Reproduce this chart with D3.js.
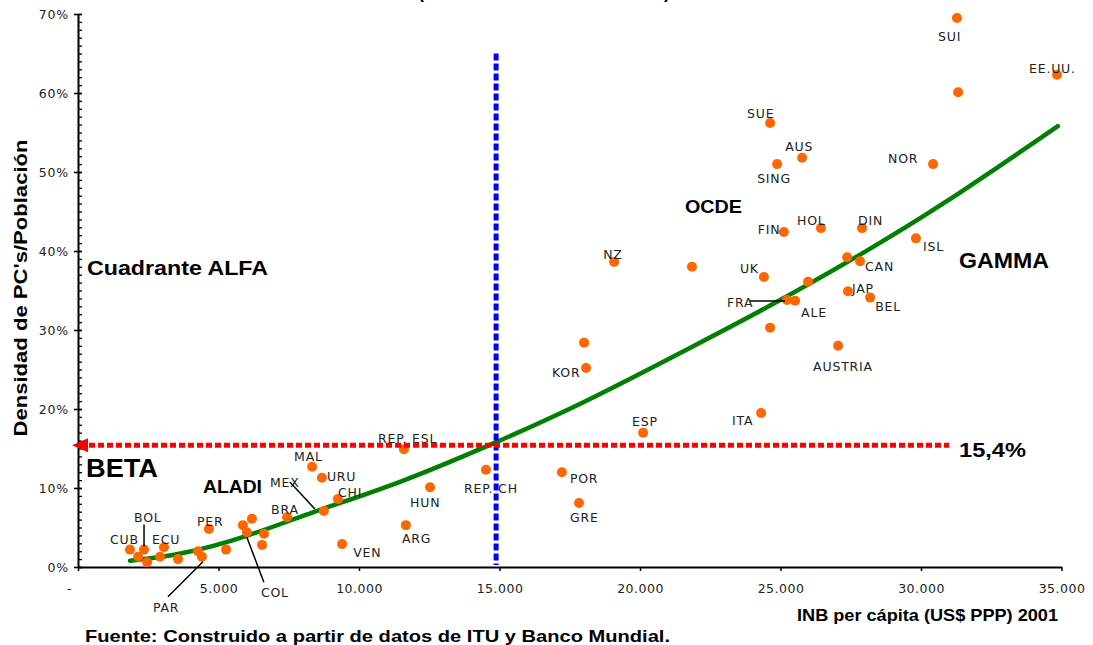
<!DOCTYPE html>
<html>
<head>
<meta charset="utf-8">
<script src="https://cdn.jsdelivr.net/npm/d3@7"></script>
<style>
  body { margin: 0; background: #fff; }
  svg { display: block; }
</style>
</head>
<body>
<svg id="chart" width="1093" height="645"></svg>
<script>
// ---- data ----
const countries = [
  "SUI", "", "EE.UU.", "SUE", "AUS", "SING", "NOR", "FIN", "HOL", "DIN", "ISL", "NZ", "",
  "UK", "", "CAN", "", "JAP", "BEL", "FRA", "ALE", "", "AUSTRIA", "", "KOR", "ITA", "ESP",
  "REP. ESL", "MAL", "URU", "CHI", "MEX", "BRA", "HUN", "ARG", "VEN", "REP. CH", "POR", "GRE",
  "PER", "", "", "COL", "", "", "", "", "", "PAR", "CUB", "BOL", "ECU", "", "", ""
];
const gniPerCapita = [
  31280, 31320, 34840, 24630, 25770, 24880, 30430, 25120, 26440, 27900, 29820, 19080, 21850,
  24410, 27370, 27830, 25980, 27400, 28190, 25230, 25520, 24630, 27050, 18010, 18080, 24310, 20110,
  11600, 8330, 8680, 9250, 8750, 7440, 12530, 11670, 9400, 14520, 17220, 17830,
  4660, 5870, 6190, 6010, 6620, 6550, 5270, 3560, 4270, 4410, 1850, 2350, 3060, 2140, 2460, 2920
];
const pcDensity = [
  0.695, 0.601, 0.623, 0.562, 0.518, 0.510, 0.510, 0.424, 0.429, 0.429, 0.416, 0.386, 0.380,
  0.367, 0.392, 0.387, 0.361, 0.349, 0.341, 0.338, 0.337, 0.303, 0.280, 0.284, 0.252, 0.195, 0.170,
  0.149, 0.127, 0.113, 0.086, 0.071, 0.063, 0.101, 0.053, 0.029, 0.123, 0.120, 0.081,
  0.048, 0.053, 0.061, 0.044, 0.042, 0.028, 0.022, 0.010, 0.020, 0.013, 0.022, 0.022, 0.025, 0.013, 0.006, 0.013
];

// trend curve, read point by point
const trendGni = [1850, 3630, 6010, 8360, 11460, 14840, 17870, 22140, 24730, 28080, 30680, 34870];
const trendDensity = [0.008, 0.015, 0.038, 0.070, 0.106, 0.157, 0.205, 0.284, 0.332, 0.400, 0.456, 0.558];

const xTicks = [0, 5000, 10000, 15000, 20000, 25000, 30000, 35000];
const yTicks = [0, 0.1, 0.2, 0.3, 0.4, 0.5, 0.6, 0.7];
const densityLine = 0.154;   // 15,4%
const gniLine = 14880;

// label placement relative to its dot (px)
const labelOffset = {
  "SUI": [-19, 23], "EE.UU.": [-28, -2], "SUE": [-23, -5], "AUS": [-17, -7], "SING": [-20, 19],
  "NOR": [-45, -1], "FIN": [-26, 2], "HOL": [-24, -3], "DIN": [-4, -3], "ISL": [7, 13],
  "NZ": [-11, -3], "UK": [-24, -4], "CAN": [5, 10], "JAP": [4, 2], "BEL": [5, 13],
  "FRA": [-60, 7], "ALE": [6, 16], "AUSTRIA": [-25, 25], "KOR": [-34, 9], "ITA": [-29, 12],
  "ESP": [-11, -7], "REP. ESL": [-26, -6], "MAL": [-18, -6], "URU": [5, 3], "CHI": [0, -2],
  "MEX": [-54, -24], "BRA": [-16, -3], "HUN": [-20, 20], "ARG": [-4, 18], "VEN": [11, 13],
  "REP. CH": [-22, 23], "POR": [8, 11], "GRE": [-9, 19], "PER": [-12, -3], "BOL": [-10, -28],
  "CUB": [-20, -6], "ECU": [-12, -3], "PAR": [-49, 55], "COL": [14, 65]
};
const leaderLine = {
  "FRA": [[-37, 1], [-2, 1]],
  "MEX": [[-34, -29], [-9, -2]],
  "BOL": [[0, -25], [0, -3]],
  "PAR": [[-34, 40], [1, 5]],
  "COL": [[0, 5], [17, 50]]
};

const points = countries.map((c, i) => ({ name: c, gni: gniPerCapita[i], pc: pcDensity[i] }));
const trend = trendGni.map((g, i) => [g, trendDensity[i]]);

const svg = d3.select("#chart");
const labelFont = "'DejaVu Sans', Verdana, sans-serif";
const boldFont = "'Liberation Sans', Arial, sans-serif";

const x = d3.scaleLinear().domain([0, 35000]).range([78, 1061.5]);
const y = d3.scaleLinear().domain([0, 0.7]).range([567, 14]);

const thousands = d3.formatLocale({ decimal: ",", thousands: ".", grouping: [3], currency: ["$", ""] }).format(",.0f");

// x axis
const xAxis = svg.append("g")
  .attr("transform", `translate(0,${y(0)})`)
  .call(d3.axisBottom(x).tickValues(xTicks).tickSize(4).tickSizeOuter(0).tickPadding(13)
    .tickFormat(d => d === 0 ? "-" : thousands(d)));
xAxis.select(".domain").attr("stroke", "#000").attr("stroke-width", 2);
xAxis.selectAll(".tick line").attr("stroke", "#000").attr("stroke-width", 1.5);
xAxis.selectAll(".tick text")
  .attr("font-family", labelFont).attr("font-size", 12.5).attr("fill", "#222")
  .attr("letter-spacing", 0.5)
  .attr("dx", d => d === 0 ? -9 : 0);

// y axis, minor ticks first
const yMinor = svg.append("g")
  .attr("transform", `translate(${x(0)},0)`)
  .call(d3.axisRight(y).ticks(70).tickSize(4).tickSizeOuter(0).tickFormat(""));
yMinor.select(".domain").remove();
yMinor.selectAll(".tick line").attr("stroke", "#000").attr("stroke-width", 1.3);

const yAxis = svg.append("g")
  .attr("transform", `translate(${x(0)},0)`)
  .call(d3.axisLeft(y).tickValues(yTicks).tickSize(4).tickSizeOuter(0).tickPadding(5)
    .tickFormat(d3.format(".0%")));
yAxis.select(".domain").attr("stroke", "#000").attr("stroke-width", 2);
yAxis.selectAll(".tick line").attr("x2", -4).attr("x1", 4).attr("stroke", "#000").attr("stroke-width", 1.6);
yAxis.selectAll(".tick text")
  .attr("font-family", labelFont).attr("font-size", 12.5).attr("fill", "#222")
  .attr("letter-spacing", 0.8);

// trend
svg.append("path")
  .datum(trend)
  .attr("fill", "none")
  .attr("stroke", "#008000")
  .attr("stroke-width", 4.5)
  .attr("stroke-linecap", "round")
  .attr("d", d3.line().x(d => x(d[0])).y(d => y(d[1])).curve(d3.curveBasis));

// dots
svg.append("g").selectAll("circle")
  .data(points)
  .join("circle")
  .attr("cx", d => x(d.gni))
  .attr("cy", d => y(d.pc))
  .attr("r", 5)
  .attr("fill", "#FF6600");

// country labels
const named = points.filter(d => d.name !== "");
svg.append("g").selectAll("text")
  .data(named)
  .join("text")
  .attr("x", d => x(d.gni) + labelOffset[d.name][0])
  .attr("y", d => y(d.pc) + labelOffset[d.name][1])
  .attr("font-family", labelFont)
  .attr("font-size", 12.5)
  .attr("letter-spacing", 0.8)
  .attr("fill", "#222")
  .text(d => d.name);

svg.append("g").selectAll("line")
  .data(named.filter(d => leaderLine[d.name]))
  .join("line")
  .attr("x1", d => x(d.gni) + leaderLine[d.name][0][0])
  .attr("y1", d => y(d.pc) + leaderLine[d.name][0][1])
  .attr("x2", d => x(d.gni) + leaderLine[d.name][1][0])
  .attr("y2", d => y(d.pc) + leaderLine[d.name][1][1])
  .attr("stroke", "#000")
  .attr("stroke-width", 1.5);

// blue vertical divider
svg.append("line")
  .attr("x1", x(gniLine)).attr("x2", x(gniLine))
  .attr("y1", y(0.65)).attr("y2", y(0) - 2)
  .attr("stroke", "#0000FF")
  .attr("stroke-width", 5)
  .attr("stroke-dasharray", "7,3");

// red horizontal divider with arrow
svg.append("line")
  .attr("x1", x(0) + 11).attr("x2", x(31000))
  .attr("y1", y(densityLine)).attr("y2", y(densityLine))
  .attr("stroke", "#FF0000")
  .attr("stroke-width", 5)
  .attr("stroke-dasharray", "6,3");
svg.append("path")
  .attr("d", `M${x(0) - 6},${y(densityLine)} L${x(0) + 10},${y(densityLine) - 7} L${x(0) + 10},${y(densityLine) + 7} Z`)
  .attr("fill", "#FF0000");

// bold annotations
function bold(txt, px, py, size, len) {
  return svg.append("text")
    .attr("x", px).attr("y", py)
    .attr("font-family", boldFont)
    .attr("font-weight", "bold")
    .attr("font-size", size)
    .attr("textLength", len)
    .attr("lengthAdjust", "spacingAndGlyphs")
    .attr("fill", "#000")
    .text(txt);
}
bold("Cuadrante ALFA", 87, 275, 21, 181);
bold("BETA", 86, 477, 26, 72);
bold("ALADI", 203, 493, 19, 59);
bold("OCDE", 685, 213, 19, 57);
bold("GAMMA", 959, 268, 22, 90);
bold("15,4%", 959, 457, 21, 67);
bold("INB per cápita (US$ PPP) 2001", 797, 621, 17, 261);
bold("Fuente: Construido a partir de datos de ITU y Banco Mundial.", 85, 642, 17, 585);

svg.append("text")
  .attr("transform", "translate(27,288) rotate(-90)")
  .attr("text-anchor", "middle")
  .attr("font-family", boldFont)
  .attr("font-weight", "bold")
  .attr("font-size", 18)
  .attr("textLength", 297)
  .attr("lengthAdjust", "spacingAndGlyphs")
  .text("Densidad de PC's/Población");

// bottom of the clipped title
bold("(", 418, -2, 18, 6);
bold(")", 664, -2, 18, 6);
</script>
</body>
</html>
